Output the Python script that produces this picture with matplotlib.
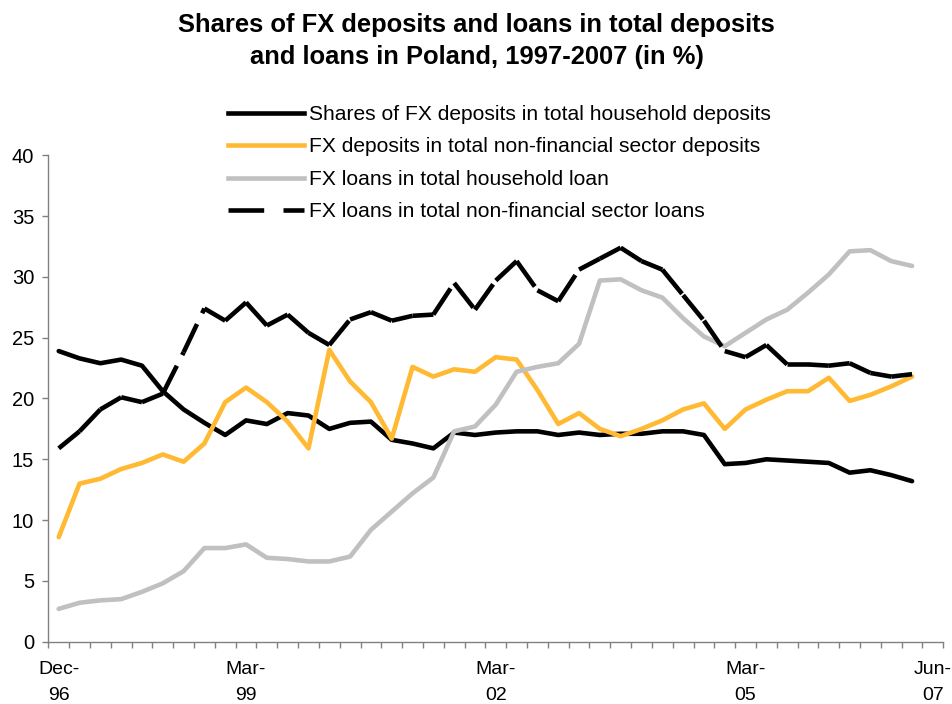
import matplotlib
matplotlib.use("Agg")
import matplotlib.pyplot as plt
from matplotlib.lines import Line2D
import numpy as np

plt.rcParams['font.family'] = ['Liberation Sans', 'DejaVu Sans']
plt.rcParams['lines.scale_dashes'] = False

# --- data: quarterly, Dec-96 .. Mar-07 (Jun-07 category left empty) ---
hh_deposits = [23.9, 23.3, 22.9, 23.2, 22.7, 20.6, 19.1, 18.0, 17.0, 18.2,
               17.9, 18.8, 18.6, 17.5, 18.0, 18.1, 16.6, 16.3, 15.9, 17.2,
               17.0, 17.2, 17.3, 17.3, 17.0, 17.2, 17.0, 17.1, 17.1, 17.3,
               17.3, 17.0, 14.6, 14.7, 15.0, 14.9, 14.8, 14.7, 13.9, 14.1,
               13.7, 13.2]
nonfin_deposits = [8.6, 13.0, 13.4, 14.2, 14.7, 15.4, 14.8, 16.3, 19.7, 20.9,
                   19.7, 18.1, 15.9, 24.0, 21.4, 19.7, 16.7, 22.6, 21.8, 22.4,
                   22.2, 23.4, 23.2, 20.7, 17.9, 18.8, 17.5, 16.9, 17.5, 18.2,
                   19.1, 19.6, 17.5, 19.1, 19.9, 20.6, 20.6, 21.7, 19.8, 20.3,
                   21.0, 21.8]
hh_loans = [2.7, 3.2, 3.4, 3.5, 4.1, 4.8, 5.8, 7.7, 7.7, 8.0,
            6.9, 6.8, 6.6, 6.6, 7.0, 9.2, 10.7, 12.2, 13.5, 17.3,
            17.7, 19.5, 22.2, 22.6, 22.9, 24.5, 29.7, 29.8, 28.9, 28.3,
            26.6, 25.1, 24.3, 25.4, 26.5, 27.3, 28.7, 30.2, 32.1, 32.2,
            31.3, 30.9]
nonfin_loans = [15.9, 17.3, 19.1, 20.1, 19.7, 20.4, 23.8, 27.4, 26.4, 27.9,
                26.0, 26.9, 25.4, 24.4, 26.5, 27.1, 26.4, 26.8, 26.9, 29.5,
                27.3, 29.7, 31.3, 28.9, 28.0, 30.6, 31.5, 32.4, 31.3, 30.6,
                28.5, 26.4, 23.9, 23.4, 24.4, 22.8, 22.8, 22.7, 22.9, 22.1,
                21.8, 22.0]

n_categories = 43
label_pos = [0, 9, 21, 33, 42]
label_text = ['Dec-\n96', 'Mar-\n99', 'Mar-\n02', 'Mar-\n05', 'Jun-\n07']

labels = ['Shares of FX deposits in total household deposits',
          'FX deposits in total non-financial sector deposits',
          'FX loans in total household loan',
          'FX loans in total non-financial sector loans']

BLACK = '#000000'
ORANGE = '#FFB933'
GREY = '#C0C0C0'
AXIS = '#808080'
LW = 3.3

fig = plt.figure(figsize=(9.53, 7.04), dpi=100)
ax = fig.add_axes([0.0507, 0.0885, 0.9391, 0.6909])

x = np.arange(len(hh_deposits))
ax.plot(x, hh_deposits, color=BLACK, lw=LW, solid_capstyle='round', solid_joinstyle='round')
ax.plot(x, nonfin_deposits, color=ORANGE, lw=LW, solid_capstyle='round', solid_joinstyle='round')
ax.plot(x, hh_loans, color=GREY, lw=LW, solid_capstyle='round', solid_joinstyle='round')
# excel restarts the dash pattern on every segment
for k in range(len(x) - 1):
    ax.plot(x[k:k + 2], nonfin_loans[k:k + 2], color=BLACK, lw=LW,
            dashes=(22.5, 8.6), dash_capstyle='butt')

ax.set_xlim(-0.5, n_categories - 0.5)
ax.set_ylim(0, 40)
ax.set_yticks(np.arange(0, 41, 5))

# tick marks between categories, labels on a few of them
ax.set_xticks(np.arange(n_categories + 1) - 0.5)
ax.set_xticklabels([])
ax.set_xticks(label_pos, minor=True)
ax.set_xticklabels(label_text, minor=True, fontsize=14, linespacing=1.65)
ax.tick_params(axis='x', which='minor', length=0, pad=14)
ax.tick_params(axis='x', which='major', length=4.2, width=1, color=AXIS, direction='out')
ax.tick_params(axis='y', length=4.2, width=1, color=AXIS, labelsize=14.5, pad=6)

for s in ['top', 'right']:
    ax.spines[s].set_visible(False)
for s in ['left', 'bottom']:
    ax.spines[s].set_color(AXIS)
    ax.spines[s].set_linewidth(1)

handles = [Line2D([], [], color=BLACK, lw=LW),
           Line2D([], [], color=ORANGE, lw=LW),
           Line2D([], [], color=GREY, lw=LW),
           Line2D([], [], color=BLACK, lw=LW, dashes=(25.7, 13.9), dash_capstyle='butt')]
fig.legend(handles, labels, loc='upper left', bbox_to_anchor=(228 / 953, 1 - 105 / 704),
           frameon=False, fontsize=15.1, handlelength=3.6, handletextpad=0.25,
           labelspacing=0.64, borderpad=0, borderaxespad=0)

fig.suptitle('Shares of FX deposits and loans in total deposits\nand loans in Poland, 1997-2007 (in %)',
             x=0.5, y=1 - 13 / 704, va='top', fontsize=18.4, fontweight='bold', linespacing=1.43)

fig.savefig('out.png', dpi=100)
